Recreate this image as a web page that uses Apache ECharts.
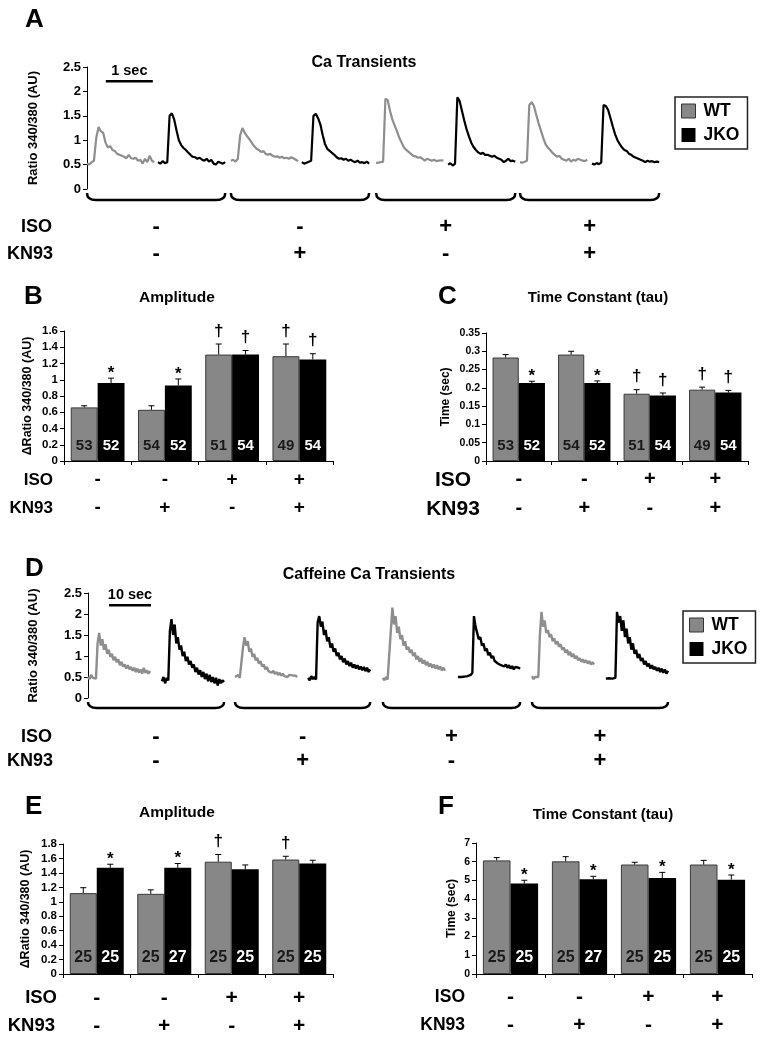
<!DOCTYPE html>
<html><head><meta charset="utf-8">
<script src="https://cdn.jsdelivr.net/npm/echarts@6/dist/echarts.min.js"></script>
<style>html,body{margin:0;padding:0;background:#fff}#c{width:763px;height:1040px}</style>
</head><body><div id="c"></div>
<script>
const FONT = "'Liberation Sans', Arial, sans-serif";
const TRACE_GRAY = '#8e8e8e';
const BAR_GRAY = '#878787';

// ---------- Panel A: Ca transients (ratio 340/380), 30 samples per trace ----------
const traceA_WT_ctrl   = [0.52,0.50,0.55,0.58,1.05,1.27,1.18,1.15,0.95,0.85,0.88,0.80,0.78,0.72,0.70,0.68,0.66,0.63,0.70,0.63,0.62,0.64,0.58,0.60,0.52,0.62,0.55,0.68,0.58,0.55];
const traceA_JKO_ctrl  = [0.55,0.52,0.57,0.53,0.55,1.50,1.55,1.42,1.20,1.00,0.90,0.84,0.80,0.75,0.70,0.66,0.65,0.62,0.64,0.60,0.58,0.62,0.56,0.60,0.52,0.50,0.56,0.54,0.52,0.55];
const traceA_WT_kn     = [0.58,0.60,0.56,0.62,1.10,1.25,1.15,1.08,1.02,0.95,0.88,0.83,0.80,0.76,0.78,0.72,0.70,0.72,0.68,0.66,0.67,0.64,0.66,0.63,0.64,0.62,0.65,0.63,0.60,0.57];
const traceA_JKO_kn    = [0.55,0.52,0.54,0.56,0.58,1.50,1.54,1.45,1.32,1.10,0.92,0.82,0.78,0.74,0.70,0.65,0.62,0.63,0.60,0.62,0.58,0.60,0.57,0.55,0.58,0.54,0.55,0.53,0.56,0.52];
const traceA_WT_iso    = [0.53,0.54,0.55,0.56,1.85,1.82,1.60,1.42,1.30,1.18,1.05,0.95,0.85,0.80,0.76,0.72,0.68,0.67,0.64,0.65,0.62,0.58,0.62,0.60,0.58,0.60,0.57,0.58,0.59,0.58];
const traceA_JKO_iso   = [0.50,0.53,0.48,0.52,1.88,1.80,1.60,1.40,1.22,1.08,0.95,0.86,0.80,0.75,0.72,0.74,0.70,0.70,0.68,0.66,0.68,0.64,0.62,0.60,0.55,0.58,0.62,0.57,0.58,0.56];
const traceA_WT_isokn  = [0.55,0.54,0.56,0.58,1.72,1.78,1.70,1.52,1.35,1.20,1.05,0.92,0.85,0.80,0.74,0.70,0.66,0.68,0.62,0.60,0.58,0.62,0.56,0.60,0.58,0.62,0.60,0.58,0.57,0.60];
const traceA_JKO_isokn = [0.52,0.50,0.53,0.51,0.54,1.72,1.70,1.62,1.45,1.28,1.12,1.00,0.92,0.85,0.80,0.78,0.72,0.70,0.66,0.64,0.62,0.60,0.58,0.55,0.58,0.56,0.57,0.55,0.56,0.55];
const traceStartA = [0, 1.51, 3.06, 4.57, 6.15, 7.68, 9.21, 10.74]; // s
const traceDurA = 1.43; // s
const scaleBarA = [0.4, 1, 2.21]; // start (s), length (s), level

// ---------- Panel D: caffeine Ca transients, 40 samples per trace ----------
const traceD_WT_ctrl   = [0.50,0.45,0.55,0.48,0.52,0.46,1.30,1.55,1.25,1.40,1.15,1.28,1.05,1.15,0.98,1.05,0.90,0.98,0.85,0.92,0.78,0.86,0.75,0.80,0.70,0.78,0.68,0.74,0.65,0.72,0.62,0.70,0.60,0.68,0.58,0.72,0.60,0.66,0.58,0.64];
const traceD_JKO_ctrl  = [0.40,0.50,0.35,0.48,0.42,1.60,1.88,1.50,1.75,1.30,1.45,1.15,1.25,1.00,1.10,0.88,0.98,0.80,0.88,0.72,0.80,0.62,0.72,0.56,0.66,0.50,0.62,0.45,0.58,0.40,0.55,0.38,0.50,0.35,0.48,0.30,0.45,0.35,0.42,0.38];
const traceD_WT_kn     = [0.50,0.46,0.55,0.48,0.52,1.20,1.45,1.25,1.35,1.10,1.18,0.98,1.05,0.90,0.95,0.82,0.88,0.75,0.80,0.68,0.74,0.64,0.68,0.60,0.65,0.57,0.62,0.55,0.60,0.53,0.58,0.52,0.56,0.50,0.55,0.52,0.54,0.50,0.53,0.50];
const traceD_JKO_kn    = [0.48,0.42,0.52,0.45,0.50,0.44,1.80,1.95,1.70,1.82,1.50,1.62,1.35,1.45,1.20,1.30,1.10,1.18,1.00,1.08,0.92,1.00,0.85,0.94,0.80,0.88,0.76,0.84,0.72,0.80,0.70,0.78,0.68,0.75,0.66,0.74,0.64,0.72,0.62,0.68];
const traceD_WT_iso    = [0.48,0.42,0.50,0.44,0.48,1.60,2.15,1.75,1.95,1.55,1.70,1.40,1.50,1.25,1.35,1.15,1.22,1.08,1.15,1.00,1.08,0.92,1.00,0.86,0.95,0.82,0.90,0.78,0.86,0.75,0.82,0.72,0.80,0.70,0.78,0.68,0.75,0.66,0.72,0.65];
const traceD_JKO_iso   = [0.50,0.48,0.50,0.49,0.51,0.50,0.52,0.50,0.55,0.60,1.95,1.70,1.55,1.40,1.45,1.25,1.30,1.12,1.18,1.02,1.08,0.95,1.00,0.88,0.92,0.82,0.86,0.78,0.82,0.75,0.80,0.72,0.78,0.70,0.76,0.68,0.74,0.70,0.72,0.70];
const traceD_WT_isokn  = [0.52,0.45,0.50,0.48,0.50,1.50,2.05,1.70,1.85,1.55,1.62,1.45,1.52,1.35,1.42,1.28,1.35,1.22,1.28,1.15,1.20,1.08,1.15,1.02,1.10,0.98,1.05,0.94,1.00,0.90,0.95,0.86,0.92,0.84,0.90,0.82,0.88,0.80,0.85,0.80];
const traceD_JKO_isokn = [0.46,0.44,0.47,0.43,0.46,0.45,0.48,2.05,1.80,1.95,1.60,1.85,1.45,1.65,1.30,1.45,1.15,1.30,1.05,1.15,0.95,1.05,0.88,0.95,0.80,0.88,0.75,0.82,0.70,0.78,0.68,0.74,0.65,0.72,0.62,0.70,0.60,0.68,0.58,0.65];
const traceStartD = [0, 17.6, 35, 52.4, 70.2, 88.1, 105.7, 123.3]; // s
const traceDurD = 14.8; // s
const scaleBarD = [5, 10, 2.21];

// ---------- Conditions ----------
const groups = ['Control', 'KN93', 'ISO', 'ISO+KN93'];
const isoSigns  = ['-', '-', '+', '+'];
const kn93Signs = ['-', '+', '-', '+'];

// ---------- Panel B: amplitude ----------
const ampWT = [0.66, 0.63, 1.31, 1.29];
const ampWTerr = [0.02, 0.05, 0.13, 0.15];
const ampJKO = [0.96, 0.93, 1.31, 1.25];
const ampJKOerr = [0.06, 0.08, 0.05, 0.07];
const nWT_BC = [53, 54, 51, 49];
const nJKO_BC = [52, 52, 54, 54];
const sigWT_BC = ['', '', '†', '†'];
const sigJKO_BC = ['*', '*', '†', '†'];

// ---------- Panel C: time constant ----------
const tauWT = [0.283, 0.291, 0.184, 0.195];
const tauWTerr = [0.008, 0.009, 0.011, 0.007];
const tauJKO = [0.213, 0.213, 0.179, 0.187];
const tauJKOerr = [0.005, 0.006, 0.007, 0.006];

// ---------- Panel E: caffeine amplitude ----------
const cafAmpWT = [1.12, 1.11, 1.555, 1.585];
const cafAmpWTerr = [0.075, 0.055, 0.10, 0.045];
const cafAmpJKO = [1.47, 1.47, 1.45, 1.53];
const cafAmpJKOerr = [0.05, 0.06, 0.06, 0.045];
const nWT_EF = [25, 25, 25, 25];
const nJKO_EF = [25, 27, 25, 25];
const sigWT_E = ['', '', '†', '†'];
const sigJKO_E = ['*', '*', '', ''];

// ---------- Panel F: caffeine time constant ----------
const cafTauWT = [6.07, 6.02, 5.85, 5.85];
const cafTauWTerr = [0.15, 0.25, 0.12, 0.22];
const cafTauJKO = [4.83, 5.06, 5.13, 5.04];
const cafTauJKOerr = [0.18, 0.16, 0.30, 0.25];
const sigWT_F = ['', '', '', ''];
const sigJKO_F = ['*', '*', '*', '*'];

// =====================================================================
function traceSeries(vals, start, dur, name, color, ai, width) {
  const dt = dur / (vals.length - 1);
  return {
    type: 'line', name, xAxisIndex: ai, yAxisIndex: ai, symbol: 'none', showSymbol: false,
    data: vals.map((v, i) => [start + i * dt, v]),
    lineStyle: { color, width }, itemStyle: { color: name === 'WT' ? TRACE_GRAY : '#000' },
    silent: true, clip: false
  };
}
function braceSeries(ai, starts, dur, yTop, yBot, rowY, signFs) {
  const gdata = [0, 1, 2, 3].map(g => [starts[2 * g], starts[2 * g + 1] + dur]);
  return {
    type: 'custom', xAxisIndex: ai, yAxisIndex: ai, silent: true, clip: false,
    data: gdata,
    renderItem(params, api) {
      const p0 = api.coord([api.value(0), 0]);
      const p1 = api.coord([api.value(1), 0]);
      const y0 = p0[1], xa = p0[0], xb = p1[0], cx = (xa + xb) / 2;
      const t = y0 + yTop, b = y0 + yBot;
      const font = 'bold ' + signFs + 'px ' + FONT;
      return { type: 'group', children: [
        { type: 'path', shape: { pathData: `M${xa} ${t} Q${xa} ${b} ${xa + 9} ${b} L${xb - 9} ${b} Q${xb} ${b} ${xb} ${t}` },
          style: { stroke: '#000', lineWidth: 2.5, fill: 'none' } },
        { type: 'text', x: cx, y: y0 + rowY[0], style: { text: isoSigns[params.dataIndex], font, fill: '#000', align: 'center', verticalAlign: 'middle' } },
        { type: 'text', x: cx, y: y0 + rowY[1], style: { text: kn93Signs[params.dataIndex], font, fill: '#000', align: 'center', verticalAlign: 'middle' } }
      ]};
    }
  };
}
function scaleBarSeries(ai, bar, label) {
  return {
    type: 'custom', xAxisIndex: ai, yAxisIndex: ai, silent: true, clip: false,
    data: [[bar[0], bar[0] + bar[1], bar[2]]],
    renderItem(params, api) {
      const a = api.coord([api.value(0), api.value(2)]);
      const b = api.coord([api.value(1), api.value(2)]);
      return { type: 'group', children: [
        { type: 'line', shape: { x1: a[0], y1: a[1], x2: b[0], y2: b[1] }, style: { stroke: '#000', lineWidth: 2.5 } },
        { type: 'text', x: (a[0] + b[0]) / 2, y: a[1] - 10, style: { text: label, font: 'bold 14.5px ' + FONT, fill: '#000', align: 'center', verticalAlign: 'middle' } }
      ]};
    }
  };
}
function barSeries(ai, name, vals, ns, color, labelColor, fs) {
  return {
    type: 'bar', name, xAxisIndex: ai, yAxisIndex: ai, data: vals,
    barGap: '0%', barCategoryGap: '20%',
    itemStyle: name === 'WT' ? { color, borderColor: '#3a3a3a', borderWidth: 1 } : { color },
    label: { show: true, position: 'insideBottom', distance: 8, formatter: p => String(ns[p.dataIndex]),
      color: labelColor, fontFamily: FONT, fontWeight: 'bold', fontSize: fs },
    silent: true
  };
}
function errSeries(ai, vals, errs, sigs, side) {
  return {
    type: 'custom', xAxisIndex: ai, yAxisIndex: ai, silent: true, clip: false, z: 5,
    data: vals.map((v, i) => [i, v, errs[i]]),
    renderItem(params, api) {
      const i = api.value(0), v = api.value(1), e = api.value(2);
      const band = api.size([1, 0])[0];
      const bw = band * 0.8 / 2;
      const c = api.coord([i, v]);
      const cx = c[0] + side * bw / 2;
      const yT = api.coord([i, v + e])[1];
      const ch = [
        { type: 'line', shape: { x1: cx, y1: c[1], x2: cx, y2: yT }, style: { stroke: '#000', lineWidth: 1 } },
        { type: 'line', shape: { x1: cx - 3, y1: yT, x2: cx + 3, y2: yT }, style: { stroke: '#000', lineWidth: 1 } }
      ];
      const s = sigs[params.dataIndex];
      if (s) ch.push({ type: 'text', x: cx, y: yT - (s === '*' ? 5 : 13),
        style: { text: s, font: 'bold 17px ' + FONT, fill: '#000', align: 'center', verticalAlign: 'middle' } });
      return { type: 'group', children: ch };
    }
  };
}
function yAx(gi, max, interval, name, nameGap, fs, nameFs) {
  return {
    type: 'value', gridIndex: gi, min: 0, max, interval, name, nameLocation: 'middle', nameGap,
    nameTextStyle: { fontFamily: FONT, fontWeight: 'bold', fontSize: nameFs, color: '#000' },
    axisLine: { show: true, lineStyle: { color: '#000', width: 1 } },
    axisTick: { show: true, length: 4, lineStyle: { color: '#000' } },
    axisLabel: { fontFamily: FONT, fontWeight: 'bold', fontSize: fs, color: '#000', margin: 6 },
    splitLine: { show: false }
  };
}
function xCat(gi, fs, margin, lh) {
  return {
    type: 'category', gridIndex: gi, data: groups,
    axisLine: { lineStyle: { color: '#000', width: 1 } },
    axisTick: { show: true, length: 4, lineStyle: { color: '#000' } },
    axisLabel: { margin, interval: 0,
      formatter: (v, i) => `{s|${isoSigns[i]}}\n{s|${kn93Signs[i]}}`,
      rich: { s: { fontFamily: FONT, fontWeight: 'bold', fontSize: fs, lineHeight: lh, color: '#000' } } }
  };
}
function txt(text, x, y, fs, align) {
  return { type: 'text', x, y, silent: true,
    style: { text, font: 'bold ' + fs + 'px ' + FONT, fill: '#000', align: align || 'left', verticalAlign: 'middle' } };
}
const legendItems = [
  { name: 'WT', icon: 'rect', itemStyle: { color: BAR_GRAY, borderColor: '#333', borderWidth: 1 } },
  { name: 'JKO', icon: 'rect', itemStyle: { color: '#000' } }
];
function legendAt(left, top) {
  return { left, top, orient: 'vertical', data: legendItems, selectedMode: false,
    borderColor: '#222', borderWidth: 1.5, padding: [5, 8, 5, 6], itemGap: 6,
    itemWidth: 14, itemHeight: 14,
    textStyle: { fontFamily: FONT, fontWeight: 'bold', fontSize: 17.5, color: '#000', padding: [0, 0, 0, 3] } };
}

const chart = echarts.init(document.getElementById('c'), null, { renderer: 'canvas' });
const option = {
  animation: false,
  backgroundColor: '#fff',
  grid: [
    { left: 87, top: 67, width: 575, height: 122 },
    { left: 64, top: 331, width: 269, height: 130 },
    { left: 486, top: 333, width: 262, height: 128 },
    { left: 88, top: 593, width: 580, height: 105 },
    { left: 63, top: 844, width: 270, height: 130 },
    { left: 476, top: 843, width: 276, height: 131 }
  ],
  xAxis: [
    { type: 'value', gridIndex: 0, min: 0, max: 12.23, show: false },
    xCat(1, 19, 5, 28),
    xCat(2, 20, 4, 29),
    { type: 'value', gridIndex: 3, min: 0, max: 138.1, show: false },
    xCat(4, 21, 10, 28),
    xCat(5, 21, 9, 28)
  ],
  yAxis: [
    yAx(0, 2.5, 0.5, 'Ratio 340/380 (AU)', 47, 13, 13),
    yAx(1, 1.6, 0.2, 'ΔRatio 340/380 (AU)', 30, 11.5, 12.5),
    yAx(2, 0.35, 0.05, 'Time (sec)', 34, 10.5, 12),
    yAx(3, 2.5, 0.5, 'Ratio 340/380 (AU)', 48, 13, 13),
    yAx(4, 1.8, 0.2, 'ΔRatio 340/380 (AU)', 31, 11.5, 12.5),
    yAx(5, 7, 1, 'Time (sec)', 18, 10.5, 12)
  ],
  legend: [legendAt(675, 97), legendAt(683, 611)],
  series: [
    traceSeries(traceA_WT_ctrl,   traceStartA[0], traceDurA, 'WT',  TRACE_GRAY, 0, 2.2),
    traceSeries(traceA_JKO_ctrl,  traceStartA[1], traceDurA, 'JKO', '#000', 0, 2.2),
    traceSeries(traceA_WT_kn,     traceStartA[2], traceDurA, 'WT',  TRACE_GRAY, 0, 2.2),
    traceSeries(traceA_JKO_kn,    traceStartA[3], traceDurA, 'JKO', '#000', 0, 2.2),
    traceSeries(traceA_WT_iso,    traceStartA[4], traceDurA, 'WT',  TRACE_GRAY, 0, 2.2),
    traceSeries(traceA_JKO_iso,   traceStartA[5], traceDurA, 'JKO', '#000', 0, 2.2),
    traceSeries(traceA_WT_isokn,  traceStartA[6], traceDurA, 'WT',  TRACE_GRAY, 0, 2.2),
    traceSeries(traceA_JKO_isokn, traceStartA[7], traceDurA, 'JKO', '#000', 0, 2.2),
    braceSeries(0, traceStartA, traceDurA, 4, 11, [38, 65], 22),
    scaleBarSeries(0, scaleBarA, '1 sec'),

    traceSeries(traceD_WT_ctrl,   traceStartD[0], traceDurD, 'WT',  TRACE_GRAY, 3, 2.4),
    traceSeries(traceD_JKO_ctrl,  traceStartD[1], traceDurD, 'JKO', '#000', 3, 2.4),
    traceSeries(traceD_WT_kn,     traceStartD[2], traceDurD, 'WT',  TRACE_GRAY, 3, 2.4),
    traceSeries(traceD_JKO_kn,    traceStartD[3], traceDurD, 'JKO', '#000', 3, 2.4),
    traceSeries(traceD_WT_iso,    traceStartD[4], traceDurD, 'WT',  TRACE_GRAY, 3, 2.4),
    traceSeries(traceD_JKO_iso,   traceStartD[5], traceDurD, 'JKO', '#000', 3, 2.4),
    traceSeries(traceD_WT_isokn,  traceStartD[6], traceDurD, 'WT',  TRACE_GRAY, 3, 2.4),
    traceSeries(traceD_JKO_isokn, traceStartD[7], traceDurD, 'JKO', '#000', 3, 2.4),
    braceSeries(3, traceStartD, traceDurD, 4, 10, [39, 63], 22),
    scaleBarSeries(3, scaleBarD, '10 sec'),

    barSeries(1, 'WT', ampWT, nWT_BC, BAR_GRAY, '#1a1a1a', 15),
    barSeries(1, 'JKO', ampJKO, nJKO_BC, '#000', '#fff', 15),
    errSeries(1, ampWT, ampWTerr, sigWT_BC, -1),
    errSeries(1, ampJKO, ampJKOerr, sigJKO_BC, 1),

    barSeries(2, 'WT', tauWT, nWT_BC, BAR_GRAY, '#1a1a1a', 15),
    barSeries(2, 'JKO', tauJKO, nJKO_BC, '#000', '#fff', 15),
    errSeries(2, tauWT, tauWTerr, sigWT_BC, -1),
    errSeries(2, tauJKO, tauJKOerr, sigJKO_BC, 1),

    barSeries(4, 'WT', cafAmpWT, nWT_EF, BAR_GRAY, '#1a1a1a', 16),
    barSeries(4, 'JKO', cafAmpJKO, nJKO_EF, '#000', '#fff', 16),
    errSeries(4, cafAmpWT, cafAmpWTerr, sigWT_E, -1),
    errSeries(4, cafAmpJKO, cafAmpJKOerr, sigJKO_E, 1),

    barSeries(5, 'WT', cafTauWT, nWT_EF, BAR_GRAY, '#1a1a1a', 16),
    barSeries(5, 'JKO', cafTauJKO, nJKO_EF, '#000', '#fff', 16),
    errSeries(5, cafTauWT, cafTauWTerr, sigWT_F, -1),
    errSeries(5, cafTauJKO, cafTauJKOerr, sigJKO_F, 1)
  ],
  graphic: { elements: [
    txt('A', 25, 20, 26), txt('B', 24, 297, 26), txt('C', 438, 297, 26),
    txt('D', 25, 569, 26), txt('E', 25, 807, 26), txt('F', 438, 807, 26),
    txt('Ca Transients', 364, 63, 16, 'center'),
    txt('Amplitude', 177, 298, 15.5, 'center'),
    txt('Time Constant (tau)', 598, 298, 15, 'center'),
    txt('Caffeine Ca Transients', 369, 575, 16, 'center'),
    txt('Amplitude', 177, 813, 15.5, 'center'),
    txt('Time Constant (tau)', 603, 815, 15, 'center'),
    txt('ISO', 52, 227, 18, 'right'), txt('KN93', 53, 254, 18, 'right'),
    txt('ISO', 53, 480, 17, 'right'), txt('KN93', 53, 508, 17, 'right'),
    txt('ISO', 453, 480, 21, 'center'), txt('KN93', 453, 509, 21, 'center'),
    txt('ISO', 52, 737, 18, 'right'), txt('KN93', 53, 761, 18, 'right'),
    txt('ISO', 57, 998, 18.5, 'right'), txt('KN93', 55, 1026, 18.5, 'right'),
    txt('ISO', 465, 997, 17.5, 'right'), txt('KN93', 465, 1025, 17.5, 'right')
  ]}
};
chart.setOption(option);
</script></body></html>
